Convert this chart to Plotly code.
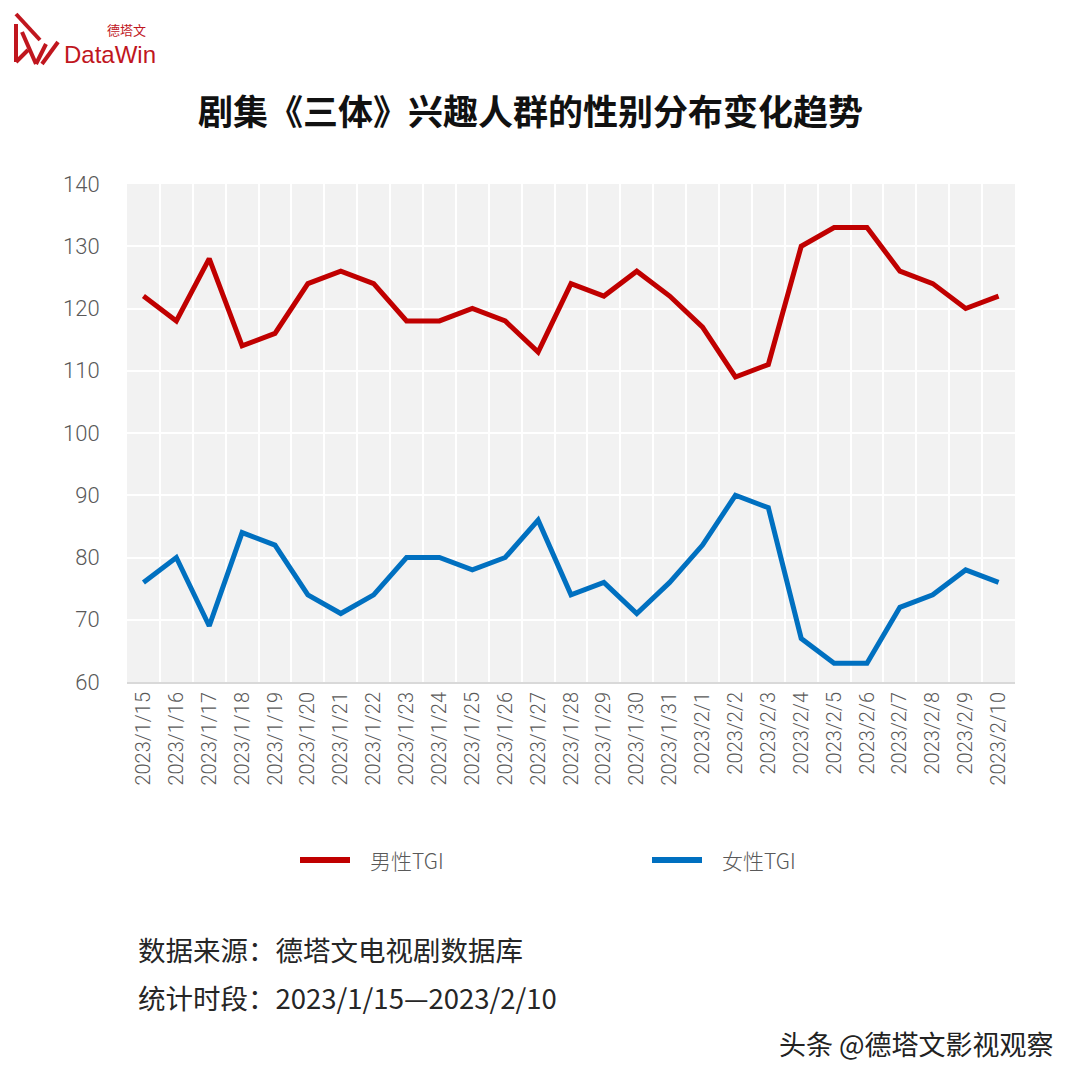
import plotly.graph_objects as go

dates = ["2023/1/15", "2023/1/16", "2023/1/17", "2023/1/18", "2023/1/19", "2023/1/20",
         "2023/1/21", "2023/1/22", "2023/1/23", "2023/1/24", "2023/1/25", "2023/1/26",
         "2023/1/27", "2023/1/28", "2023/1/29", "2023/1/30", "2023/1/31", "2023/2/1",
         "2023/2/2", "2023/2/3", "2023/2/4", "2023/2/5", "2023/2/6", "2023/2/7",
         "2023/2/8", "2023/2/9", "2023/2/10"]
male_tgi = [122, 118, 128, 114, 116, 124, 126, 124, 118, 118, 120, 118, 113, 124, 122,
            126, 122, 117, 109, 111, 130, 133, 133, 126, 124, 120, 122]
female_tgi = [76, 80, 69, 84, 82, 74, 71, 74, 80, 80, 78, 80, 86, 74, 76, 71, 76, 82,
              90, 88, 67, 63, 63, 72, 74, 78, 76]
series_names = ["男性TGI", "女性TGI"]
series_colors = ["#C00000", "#0070C0"]
y_ticks = [60, 70, 80, 90, 100, 110, 120, 130, 140]

OFF = 8  # page body margin
W, H = 1080 - 2 * OFF, 1080 - 2 * OFF
# target screen pixels of the plot area
SX0, SX1, SY0, SY1 = 127, 1015, 184, 682
L, T = SX0 - OFF, SY0 - OFF
R, B = W - (SX1 - OFF), H - (SY1 - OFF)
PW, PH = SX1 - SX0, SY1 - SY0


def px(x):
    return (x - SX0) / PW


def py(y):
    return (SY1 - y) / PH


CJK = "Noto Sans CJK SC, Noto Sans, sans-serif"
GRAY = "#595959"

fig = go.Figure()
for name, vals, col in zip(series_names, [male_tgi, female_tgi], series_colors):
    fig.add_trace(go.Scatter(x=dates, y=vals, name=name, mode="lines",
                             line=dict(color=col, width=5), showlegend=False))

fig.update_layout(
    width=W, height=H,
    margin=dict(l=L, r=R, t=T, b=B, autoexpand=False),
    paper_bgcolor="white", plot_bgcolor="#F2F2F2",
    font=dict(family=CJK, color=GRAY),
)
fig.update_xaxes(type="category", range=[-0.5, len(dates) - 0.5], tickson="boundaries",
                 showgrid=True, gridcolor="white",
                 gridwidth=2, tickangle=-90, ticks="outside", ticklen=3,
                 tickcolor="rgba(0,0,0,0)",
                 tickfont=dict(family="Roboto, sans-serif", size=20, color=GRAY, weight=300),
                 showline=True, linecolor="#D9D9D9", linewidth=2, zeroline=False)
fig.update_yaxes(range=[60, 140], tickvals=y_ticks, showgrid=True, gridcolor="white",
                 gridwidth=2, zeroline=False, ticks="outside", ticklen=22,
                 tickcolor="rgba(0,0,0,0)",
                 tickfont=dict(family="Roboto, sans-serif", size=22, color=GRAY, weight=300))

ann = []
ann.append(dict(text="<b>剧集《三体》兴趣人群的性别分布变化趋势</b>", x=px(530), y=py(110),
                xanchor="center", yanchor="middle", showarrow=False,
                font=dict(family=CJK, size=35, color="#111111")))
ann.append(dict(text="数据来源：德塔文电视剧数据库", x=px(136), y=py(949), xanchor="left",
                yanchor="middle", showarrow=False, font=dict(family=CJK, size=27.5, color="#262626")))
ann.append(dict(text="统计时段：2023/1/15—2023/2/10", x=px(136), y=py(997), xanchor="left",
                yanchor="middle", showarrow=False, font=dict(family=CJK, size=27.5, color="#262626")))
ann.append(dict(text="头条 @德塔文影视观察", x=px(1056), y=py(1043), xanchor="right",
                yanchor="middle", showarrow=False, font=dict(family=CJK, size=27, color="#222222")))
ann.append(dict(text="DataWin", x=px(62), y=py(54), xanchor="left", yanchor="middle",
                showarrow=False,
                font=dict(family="Liberation Sans Narrow, Liberation Sans, sans-serif", size=24,
                          color="#C0161E")))
ann.append(dict(text="德塔文", x=px(148), y=py(30), xanchor="right", yanchor="middle",
                showarrow=False, font=dict(family=CJK, size=13, color="#C0161E")))

# manual legend
legend_x = [300, 652]
shapes = []
for name, col, lx in zip(series_names, series_colors, legend_x):
    shapes.append(dict(type="line", xref="paper", yref="paper", x0=px(lx), x1=px(lx + 50),
                       y0=py(860), y1=py(860), line=dict(color=col, width=6)))
    ann.append(dict(text=name, x=px(lx + 68), y=py(860), xanchor="left", yanchor="middle",
                    showarrow=False, font=dict(family=CJK, size=21, color=GRAY, weight=300)))

for a in ann:
    a.update(xref="paper", yref="paper")
fig.update_layout(annotations=ann)

# logo mark
logo_strokes = [
    [(16, 14), (40, 40)],
    [(16, 24), (16, 62)],
    [(16, 62), (28, 50)],
    [(22, 32), (36, 64)],
    [(36, 64), (46, 44)],
    [(42, 64), (58, 42)],
]
for (x0, y0), (x1, y1) in logo_strokes:
    shapes.append(dict(type="line", xref="paper", yref="paper", x0=px(x0), y0=py(y0),
                       x1=px(x1), y1=py(y1), line=dict(color="#C0161E", width=4)))
fig.update_layout(shapes=shapes)

fig.write_html("out.html")
